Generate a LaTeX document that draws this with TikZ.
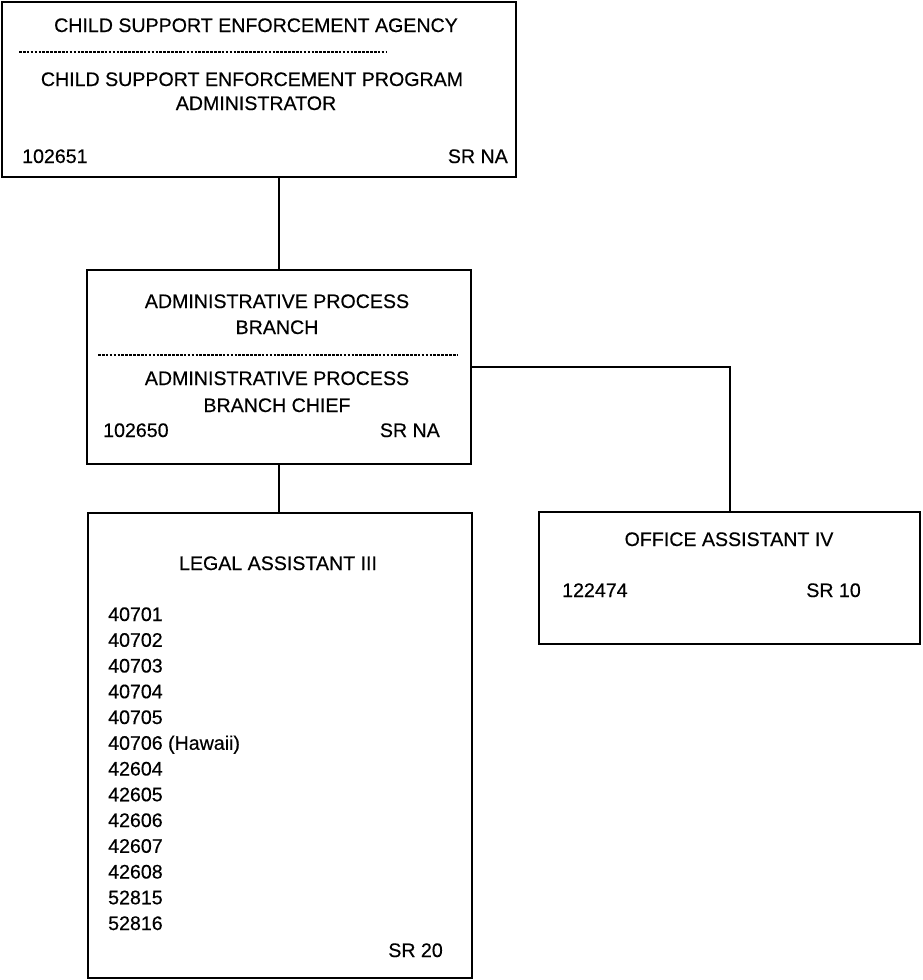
\documentclass[tikz,border=0pt]{standalone}
\usepackage{fontspec}
\setmainfont{Liberation Sans}[FakeBold=0.4]
\begin{document}
\begin{tikzpicture}[x=1pt,y=-1pt,
  box/.style={draw, line width=2.2pt, inner sep=0pt, anchor=north west},
  txt/.style={inner sep=0pt, font=\fontsize{19.6}{24}\selectfont},
  link/.style={line width=1.8pt},
  sep/.style={dash pattern=on 2.6pt off 1.3pt, line width=1.4pt}]
\useasboundingbox (0,0) rectangle (922,980);
% boxes
\node[box, minimum width=514pt, minimum height=175pt] (top) at (1,1) {};
\node[box, minimum width=384pt, minimum height=194pt] (mid) at (86,269) {};
\node[box, minimum width=384pt, minimum height=465pt] (legal) at (87,512) {};
\node[box, minimum width=381pt, minimum height=132pt] (office) at (538,511) {};
% top box text
\node[txt, anchor=base] (t1) at (256,32) {CHILD SUPPORT ENFORCEMENT AGENCY};
\draw[sep] (19,52) -- (386,52);
\node[txt, anchor=base] (t2) at (252,86) {CHILD SUPPORT ENFORCEMENT PROGRAM};
\node[txt, anchor=base] (t3) at (256,110) {ADMINISTRATOR};
\node[txt, anchor=base west] (t4) at (22,163) {102651};
\node[txt, anchor=base east] (t5) at (508,163) {SR NA};
% middle box text
\node[txt, anchor=base] (m1) at (277,308) {ADMINISTRATIVE PROCESS};
\node[txt, anchor=base] (m2) at (277,334) {BRANCH};
\draw[sep] (98,355) -- (457,355);
\node[txt, anchor=base] (m3) at (277,385) {ADMINISTRATIVE PROCESS};
\node[txt, anchor=base] (m4) at (277,412) {BRANCH CHIEF};
\node[txt, anchor=base west] (m5) at (103,437) {102650};
\node[txt, anchor=base east] (m6) at (440,437) {SR NA};
% legal box text
\node[txt, anchor=base] (l0) at (278,570) {LEGAL ASSISTANT III};
\foreach \t [count=\i from 0] in {40701,40702,40703,40704,40705,40706 (Hawaii),42604,42605,42606,42607,42608,52815,52816}{
  \node[txt, anchor=base west] (ln\i) at (108,621+25.75*\i) {\t};
}
\node[txt, anchor=base east] (l1) at (443,957) {SR 20};
% office box text
\node[txt, anchor=base] (o1) at (729,546) {OFFICE ASSISTANT IV};
\node[txt, anchor=base west] (o2) at (562,597) {122474};
\node[txt, anchor=base east] (o3) at (861,597) {SR 10};
% connectors
\draw[link] (mid.north) -- (mid.north |- top.south);
\draw[link] (mid.south) -- (mid.south |- legal.north);
\draw[link] (mid.east) -| (office.north);
\end{tikzpicture}
\end{document}
